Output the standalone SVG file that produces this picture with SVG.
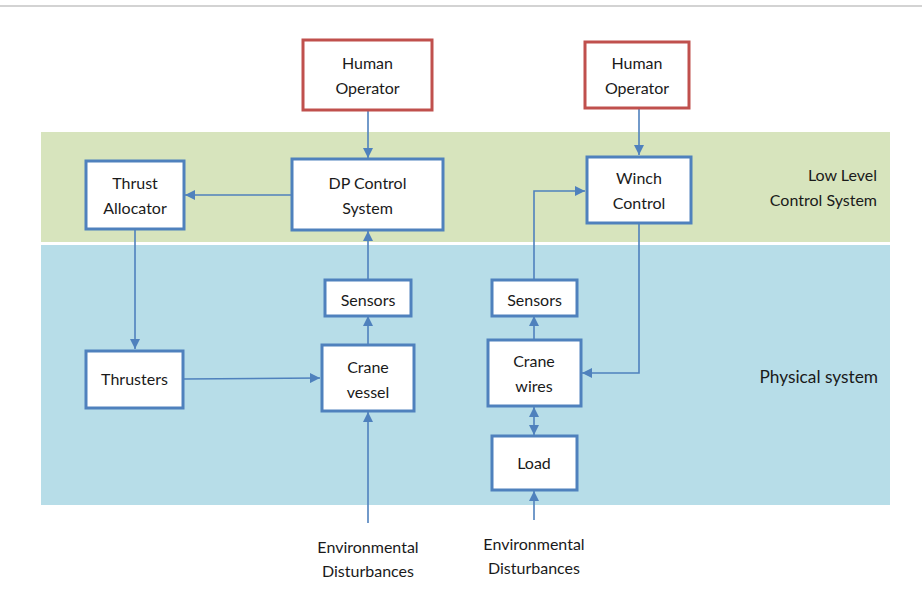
<svg xmlns="http://www.w3.org/2000/svg" width="922" height="591" viewBox="0 0 922 591">
  <style>
    .txt { font-family: Lato, "Open Sans", "Liberation Sans", sans-serif; font-size: 16px; fill: #1a1a1a; text-anchor: middle; }
    .lbl { font-family: Lato, "Open Sans", "Liberation Sans", sans-serif; font-size: 16px; fill: #1a1a1a; text-anchor: end; }
    .box { fill: #ffffff; stroke: #4f81bd; stroke-width: 3; }
    .op { fill: #ffffff; stroke: #c0504d; stroke-width: 3; }
    .wire { fill: none; stroke: #4f81bd; stroke-width: 1.6; }
  </style>
  <defs>
    <marker id="arr" viewBox="0 0 10 10" refX="10" refY="5" markerWidth="10" markerHeight="10" markerUnits="userSpaceOnUse" orient="auto-start-reverse">
      <path d="M0,0 L10,5 L0,10 z" fill="#4f81bd"/>
    </marker>
  </defs>

  <!-- page rule -->
  <line x1="0" y1="6" x2="922" y2="6" stroke="#c4c4c4" stroke-width="1.5"/>

  <!-- layer bands -->
  <g id="band-control">
    <rect x="41" y="132" width="849" height="110" fill="#d7e4bd"/>
    <text class="lbl" x="877" y="181">Low Level</text>
    <text class="lbl" x="877" y="206">Control System</text>
  </g>
  <g id="band-physical">
    <rect x="41" y="245" width="849" height="260" fill="#b7dde8"/>
    <text class="lbl" x="878" y="383" style="font-size:17.3px">Physical system</text>
  </g>

  <!-- connectors -->
  <g id="connectors">
    <line class="wire" x1="368" y1="110" x2="368" y2="158" marker-end="url(#arr)"/>
    <line class="wire" x1="639" y1="108" x2="639" y2="155" marker-end="url(#arr)"/>
    <line class="wire" x1="292" y1="195" x2="185" y2="195" marker-end="url(#arr)"/>
    <line class="wire" x1="135" y1="229" x2="135" y2="349" marker-end="url(#arr)"/>
    <line class="wire" x1="183" y1="379" x2="320" y2="378" marker-end="url(#arr)"/>
    <line class="wire" x1="368" y1="345" x2="368" y2="316" marker-end="url(#arr)"/>
    <line class="wire" x1="368" y1="280" x2="368" y2="231" marker-end="url(#arr)"/>
    <line class="wire" x1="368" y1="523" x2="368" y2="412" marker-end="url(#arr)"/>
    <polyline class="wire" points="534,280 534,191 585,191" marker-end="url(#arr)"/>
    <polyline class="wire" points="639,223 639,373 582,373" marker-end="url(#arr)"/>
    <line class="wire" x1="534" y1="340" x2="534" y2="316" marker-end="url(#arr)"/>
    <line class="wire" x1="534" y1="407" x2="534" y2="435" marker-start="url(#arr)" marker-end="url(#arr)"/>
    <line class="wire" x1="534" y1="520" x2="534" y2="491" marker-end="url(#arr)"/>
  </g>

  <!-- nodes -->
  <g id="operator-dp">
    <rect class="op" x="303" y="40" width="129" height="70"/>
    <text class="txt" x="367.5" y="69">Human</text>
    <text class="txt" x="367.5" y="94">Operator</text>
  </g>
  <g id="operator-winch">
    <rect class="op" x="585" y="42" width="104" height="66"/>
    <text class="txt" x="637" y="69">Human</text>
    <text class="txt" x="637" y="94">Operator</text>
  </g>
  <g id="thrust-allocator">
    <rect class="box" x="86" y="161" width="98" height="68"/>
    <text class="txt" x="135" y="189">Thrust</text>
    <text class="txt" x="135" y="214">Allocator</text>
  </g>
  <g id="dp-control">
    <rect class="box" x="292" y="159" width="151" height="71"/>
    <text class="txt" x="367.5" y="189">DP Control</text>
    <text class="txt" x="367.5" y="214">System</text>
  </g>
  <g id="winch-control">
    <rect class="box" x="587" y="157" width="104" height="66"/>
    <text class="txt" x="639" y="184">Winch</text>
    <text class="txt" x="639" y="209">Control</text>
  </g>
  <g id="sensors-vessel">
    <rect class="box" x="325" y="280" width="86" height="36"/>
    <text class="txt" x="368" y="306">Sensors</text>
  </g>
  <g id="thrusters">
    <rect class="box" x="86" y="351" width="97" height="57"/>
    <text class="txt" x="134.5" y="385">Thrusters</text>
  </g>
  <g id="crane-vessel">
    <rect class="box" x="322" y="345" width="92" height="66"/>
    <text class="txt" x="368" y="373">Crane</text>
    <text class="txt" x="368" y="398">vessel</text>
  </g>
  <g id="sensors-wires">
    <rect class="box" x="492" y="280" width="85" height="36"/>
    <text class="txt" x="534.5" y="306">Sensors</text>
  </g>
  <g id="crane-wires">
    <rect class="box" x="488" y="340" width="93" height="66"/>
    <text class="txt" x="534" y="367">Crane</text>
    <text class="txt" x="534" y="392">wires</text>
  </g>
  <g id="load">
    <rect class="box" x="492" y="436" width="85" height="54"/>
    <text class="txt" x="534" y="469">Load</text>
  </g>
  <g id="disturbance-vessel">
    <text class="txt" x="368" y="553">Environmental</text>
    <text class="txt" x="368" y="577">Disturbances</text>
  </g>
  <g id="disturbance-load">
    <text class="txt" x="534" y="550">Environmental</text>
    <text class="txt" x="534" y="574">Disturbances</text>
  </g>
</svg>
